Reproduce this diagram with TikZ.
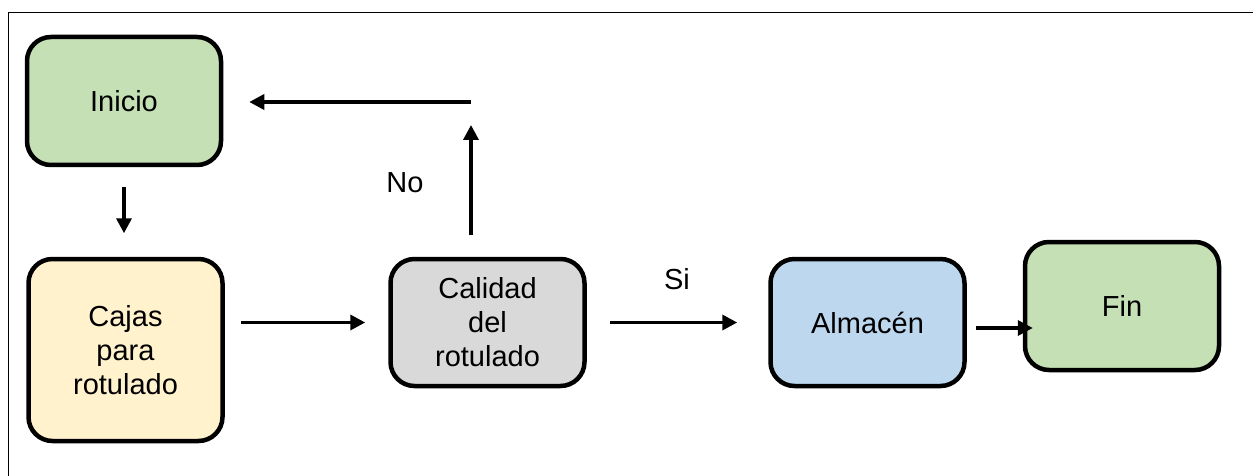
\documentclass[tikz,border=0pt]{standalone}
\usepackage{fontspec}
\setmainfont{Liberation Sans}
\usetikzlibrary{arrows.meta}
\definecolor{cgreen}{HTML}{C5E0B4}
\definecolor{cyellow}{HTML}{FFF2CC}
\definecolor{cgray}{HTML}{D9D9D9}
\definecolor{cblue}{HTML}{BDD7EE}
\begin{document}
\begin{tikzpicture}[x=1pt,y=1pt,
  box/.style={draw=black, line width=4.5pt, rounded corners=24pt, align=center,
    minimum width=194pt, inner sep=0pt, font=\fontsize{29}{34}\selectfont},
  arr/.style={line width=3.5pt, -{Triangle[length=15pt,width=15pt]}},
  lbl/.style={font=\fontsize{29}{34}\selectfont, inner sep=0pt}]
\useasboundingbox (0,0) rectangle (1253,-476);
\draw[line width=1.5pt] (8.5,-476) -- (8.5,-12.5) -- (1253,-12.5);
\node[box, fill=cgreen, minimum height=128pt] (inicio) at (124,-101) {Inicio};
\node[box, fill=cyellow, minimum height=182pt] (cajas) at (125.5,-350) {Cajas\\para\\rotulado};
\node[box, fill=cgray, minimum height=127pt] (calidad) at (487.5,-322.5) {Calidad\\del\\rotulado};
\node[box, fill=cblue, minimum height=127pt] (almacen) at (867.5,-322.5) {Almacén};
\node[box, fill=cgreen, minimum height=128pt] (fin) at (1122,-306) {Fin};
\coordinate (turn) at (471,-102);
\draw[arr] ([yshift=-20pt]inicio.south) -- ([yshift=-66pt]inicio.south);
\draw[arr] (cajas.east |- calidad.west) ++(16,0) -- ([xshift=-23pt]calidad.west);
\draw[arr] ([xshift=23pt]calidad.east) -- ([xshift=-31pt]almacen.west);
\draw[arr] (almacen.east |- 0,-328) ++(9,0) -- (fin.west |- 0,-328) -- ++(10,0);
\draw[arr] ([xshift=-16.5pt, yshift=22pt]calidad.north) -- ([yshift=-23pt]turn);
\draw[arr] (turn) -- ([xshift=26pt]inicio.east |- turn);
\node[lbl] (no) at (405,-183) {No};
\node[lbl] (si) at (677,-279) {Si};
\end{tikzpicture}
\end{document}
